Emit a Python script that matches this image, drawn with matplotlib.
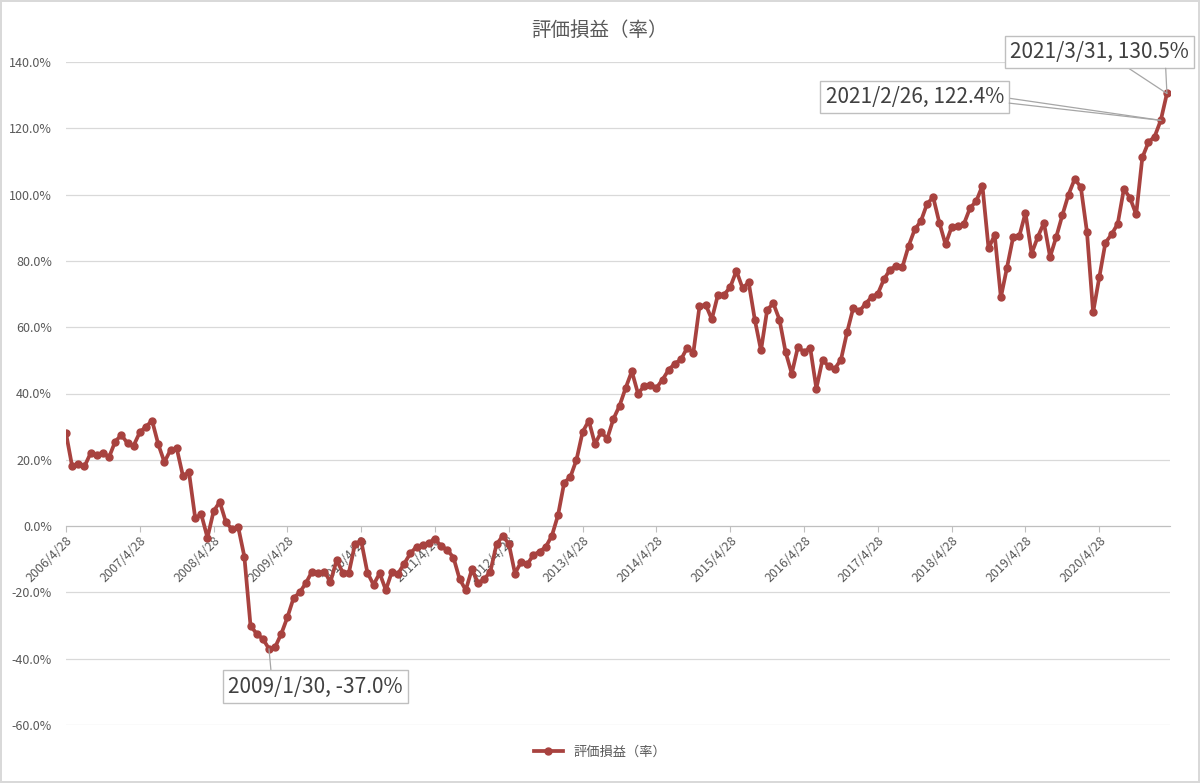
import matplotlib
matplotlib.use('Agg')
import matplotlib.pyplot as plt
from matplotlib.ticker import FuncFormatter

plt.rcParams['font.family'] = ['Noto Sans CJK JP', 'DejaVu Sans']
plt.rcParams['axes.unicode_minus'] = False

# 月末ごとの評価損益(率) 2006/4 - 2021/3
values = [
    28.0, 18.0, 18.7, 18.0, 22.0, 21.5, 22.2, 20.8, 25.5, 27.5, 25.0, 24.3,
    28.3, 30.0, 31.8, 24.7, 19.3, 23.0, 23.5, 15.2, 16.2, 2.5, 3.5, -3.5,
    4.5, 7.3, 1.2, -1.0, -0.3, -9.2, -30.0, -32.5, -34.0, -37.0, -36.5, -32.5,
    -27.5, -21.7, -20.0, -17.2, -13.7, -14.0, -13.7, -16.8, -10.3, -14.0, -14.0, -5.3,
    -4.5, -14.0, -17.7, -14.2, -19.3, -13.7, -14.3, -11.3, -8.2, -6.2, -5.7, -5.0,
    -4.0, -6.0, -7.2, -9.5, -16.0, -19.3, -13.0, -17.2, -16.0, -13.7, -5.5, -3.0,
    -5.3, -14.3, -10.8, -11.5, -8.7, -7.7, -6.3, -2.9, 3.3, 13.1, 14.8, 20.0,
    28.4, 31.8, 24.8, 28.3, 26.4, 32.3, 36.3, 41.7, 46.7, 40.0, 42.2, 42.7,
    41.7, 44.2, 47.2, 49.0, 50.3, 53.8, 52.3, 66.3, 66.8, 62.4, 69.8, 69.8,
    72.1, 77.0, 71.8, 73.5, 62.2, 53.0, 65.2, 67.2, 62.3, 52.5, 46.0, 54.0,
    52.5, 53.8, 41.5, 50.2, 48.2, 47.5, 50.2, 58.5, 65.8, 64.8, 67.1, 69.1,
    70.1, 74.5, 77.4, 78.5, 78.2, 84.5, 89.5, 92.0, 97.2, 99.2, 91.5, 85.0,
    90.2, 90.5, 91.2, 96.0, 98.0, 102.7, 83.8, 87.8, 69.0, 78.0, 87.2, 87.5,
    94.5, 82.2, 87.2, 91.5, 81.2, 87.2, 93.8, 100.0, 104.7, 102.3, 88.7, 64.5,
    75.0, 85.5, 88.0, 91.2, 101.7, 99.0, 94.0, 111.2, 115.8, 117.5, 122.4, 130.5,
]
x = list(range(len(values)))

tick_pos = list(range(0, 180, 12))
tick_labels = [f'{y}/4/28' for y in range(2006, 2021)]
y_ticks = list(range(-60, 141, 20))

# データラベル
ann_idx = [33, 178, 179]
ann_dates = ['2009/1/30', '2021/2/26', '2021/3/31']
ann_xy = [(40.5, -48.4), (138.0, 129.5), (168.0, 143.0)]
ann_rel = [[(0.25, 1.0)], [(1.0, 0.47), (1.0, 0.24)], [(0.62, 0.0), (0.87, 0.0)]]

red = '#A8423F'
gray = '#595959'

fig = plt.figure(figsize=(12, 7.83), dpi=100)
fig.patch.set_edgecolor('#D9D9D9')
fig.patch.set_linewidth(1.5)
ax = fig.add_axes([66 / 1200, 1 - 725 / 783, (1170 - 66) / 1200, (725 - 62) / 783])

ax.plot(x, values, color=red, lw=2.7, marker='o', ms=5, label='評価損益（率）', zorder=3)

ax.set_xlim(0, 179.5)
ax.set_ylim(-60, 140)
ax.set_yticks(y_ticks)
ax.yaxis.set_major_formatter(FuncFormatter(lambda v, p: f'{v:.1f}%'))
ax.grid(axis='y', color='#D9D9D9', lw=0.9)
ax.set_axisbelow(True)

for s in ['top', 'right', 'left']:
    ax.spines[s].set_visible(False)
ax.spines['bottom'].set_position(('data', 0))
ax.spines['bottom'].set_color('#BFBFBF')

ax.set_xticks(tick_pos)
ax.set_xticklabels(tick_labels, rotation=45, ha='right', va='top', rotation_mode='anchor')
ax.tick_params(axis='x', direction='out', length=4, color='#BFBFBF', labelcolor=gray, labelsize=9, pad=2)
ax.tick_params(axis='y', length=0, labelcolor=gray, labelsize=9, pad=10)

for i, d, pos, rels in zip(ann_idx, ann_dates, ann_xy, ann_rel):
    txt = f'{d}, {values[i]:.1f}%'
    for k, rp in enumerate(rels):
        first = k == 0
        ax.annotate(txt, xy=(i, values[i]), xytext=pos, ha='center', va='center',
                    fontsize=15, color='#404040' if first else 'none',
                    bbox=dict(boxstyle='square,pad=0.25', fc='white' if first else 'none',
                              ec='#BFBFBF' if first else 'none', lw=1),
                    arrowprops=dict(arrowstyle='-', color='#A6A6A6', lw=0.9,
                                    relpos=rp, shrinkA=0, shrinkB=0),
                    annotation_clip=False, zorder=5)

fig.suptitle('評価損益（率）', x=0.5, y=1 - 30 / 783, va='center', fontsize=14, color=gray)
fig.legend(loc='center', bbox_to_anchor=(0.5, 1 - 752 / 783), frameon=False,
           fontsize=9.5, labelcolor=gray, handlelength=2.2)

fig.savefig('out.png', dpi=100)
